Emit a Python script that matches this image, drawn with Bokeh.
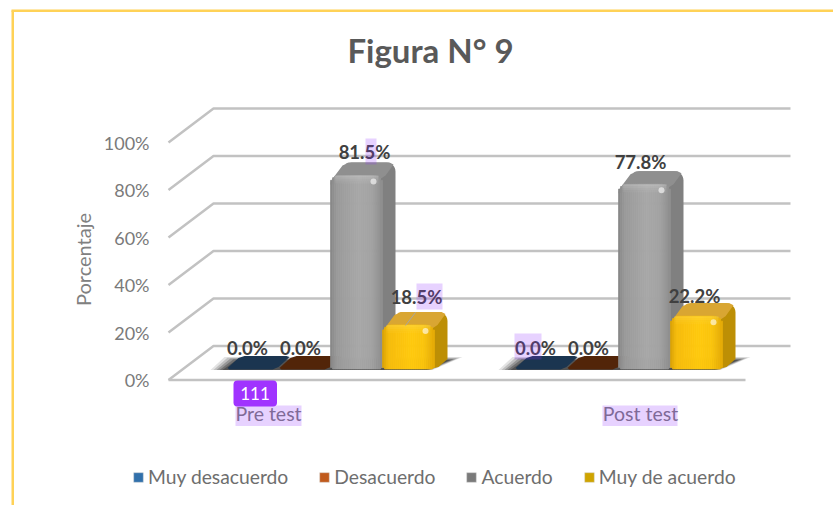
import math
from bokeh.plotting import figure
from bokeh.embed import file_html
from bokeh.resources import INLINE
from bokeh.models import Range1d, BoxAnnotation, Label, Legend, LegendItem, FixedTicker, LinearAxis
from bokeh.core.properties import value

# ---------- data ----------
title_text = "Figura N° 9"
categories = ["Pre test", "Post test"]
series_names = ["Muy desacuerdo", "Desacuerdo", "Acuerdo", "Muy de acuerdo"]
muy_desacuerdo = [0.0, 0.0]
desacuerdo = [0.0, 0.0]
acuerdo = [81.5, 77.8]
muy_de_acuerdo = [18.5, 22.2]
y_ticks = [0, 20, 40, 60, 80, 100]
y_label = "Porcentaje"
badge_text = "111"

# ---------- pixel calibration ----------
W, H = 833, 505
PX_CAT = 288.0                            # px per category
X0_PX = 330.0                             # x of first group's centre
PX_PCT = 2.375                            # px per percent
Y0_PX = 379.5                             # y of 0 %

def dx(px): return px / PX_CAT
def dy(px): return px / PX_PCT
def xd(page): return (page - X0_PX) / PX_CAT
def yd(page): return (Y0_PX - page) / PX_PCT

FONT = "Lato"
p = figure(width=W, height=H, output_backend="svg", toolbar_location=None,
           x_range=Range1d(xd(0), xd(W)), y_range=Range1d(yd(H), yd(0)),
           min_border=0, background_fill_color="white", border_fill_color="white",
           outline_line_color=None, x_axis_type=None, y_axis_type=None)
p.grid.visible = False

# axes sit inside the full-page frame
yax = LinearAxis(ticker=FixedTicker(ticks=y_ticks), fixed_location=xd(155), axis_line_color=None,
                 major_tick_line_color=None, minor_tick_line_color=None,
                 major_label_overrides={t: f"{t}%" for t in y_ticks},
                 major_label_text_font=FONT, major_label_text_font_size="18px",
                 major_label_text_color="#7a7a7a", major_label_standoff=0)
p.add_layout(yax, "left")
tick_pos = [xd(268), xd(640)]
xax = LinearAxis(ticker=FixedTicker(ticks=tick_pos), fixed_location=yd(395), axis_line_color=None,
                 major_tick_line_color=None, minor_tick_line_color=None,
                 major_label_overrides={t: c for t, c in zip(tick_pos, categories)},
                 major_label_text_font=FONT, major_label_text_font_size="19.5px",
                 major_label_text_color="#7a7a7a", major_label_standoff=0)
p.add_layout(xax, "below")

# title and y-axis title
p.add_layout(Label(x=xd(430), y=yd(49), text=title_text, text_font=FONT, text_font_size="33px",
                   text_font_style="bold", text_color="#595959", text_align="center",
                   text_baseline="middle"))
p.add_layout(Label(x=xd(82), y=yd(259), text=y_label, text_font=FONT, text_font_size="20px",
                   text_color="#808080", text_align="center", text_baseline="middle",
                   angle=90, angle_units="deg"))

# 3-D walls: one polyline per gridline, through the data scales
DEPTH_X, DEPTH_Y = 45, 34
RIGHT_BACK = 790
for t in y_ticks:
    p.line([xd(168), xd(168 + DEPTH_X), xd(RIGHT_BACK)],
           [t, t + dy(DEPTH_Y), t + dy(DEPTH_Y)],
           line_color="#c2c2c2", line_width=2.5)
p.line([xd(168), xd(745)], [0, 0], line_color="#c2c2c2", line_width=2.5)

# bars
BAR_W = 52
BASE = dy(Y0_PX - 368.5)
OFF_X, OFF_Y = 13, 13
R = 9
STY = {
    2: dict(stops=[(0, "#858585"), (0.12, "#9a9a9a"), (0.55, "#a8a8a8"), (0.8, "#a2a2a2"), (1, "#8e8e8e")],
            side="#808080", top="#8f8f8f", band="#ffffff"),
    3: dict(stops=[(0, "#d9a106"), (0.12, "#f8bd0c"), (0.55, "#ffc90e"), (0.8, "#fac40c"), (1, "#e4aa07")],
            side="#bd8f05", top="#d9a632", band="#fff2a0"),
}
FLAT = {0: "#1b3550", 1: "#522509"}

def mix(stops, t):
    for (a, ca), (b, cb) in zip(stops, stops[1:]):
        if t <= b:
            f = (t - a) / (b - a)
            cs = [int(ca[i:i + 2], 16) * (1 - f) + int(cb[i:i + 2], 16) * f for i in (1, 3, 5)]
            return "#%02x%02x%02x" % tuple(int(c) for c in cs)
    return stops[-1][1]

def arc(cx, cy, r, a0, a1, n=6):
    return [(cx + r * math.cos(math.radians(a0 + (a1 - a0) * i / n)),
             cy + r * math.sin(math.radians(a0 + (a1 - a0) * i / n))) for i in range(n + 1)]

def poly(x_c, pts, **kw):
    """pts are px offsets from (x_c, 0 %) with y up"""
    p.patch([x_c + dx(a) for a, _ in pts], [b / PX_PCT for _, b in pts], line_color=None, **kw)

def shadow(xc):
    l, r = -120, 132
    for i, al in zip((0, 3, 6, 9, 12), (0.12, 0.18, 0.25, 0.3, 0.35)):
        poly(xc, [(l + i, 10), (l + 14 + i, 23 - i * 0.25), (r - i, 23 - i * 0.25), (r - 30 - i * .5, 10)],
             fill_color="#1a1a1a", fill_alpha=al)

def flat_bar(xl, v, color):
    b = BASE * PX_PCT + v * PX_PCT
    x0 = 0; x1 = BAR_W
    pts = [(x0 + 3, b - 0.5), (x0 + 1, b + 1), (x0 + 12, b + 11), (x0 + 18, b + 13),
           (x1 + 8, b + 13), (x1 + 11, b + 12), (x1, b + 2), (x1 - 6, b - 0.5)]
    poly(xl, pts, fill_color=color)

def solid_bar(xl, v, sty):
    b = BASE * PX_PCT
    t = b + v * PX_PCT
    x0, x1 = 0, BAR_W
    # silhouette (side colour)
    pts = [(x1 - 4, b), (x1 + 4, b + 2), (x1 + OFF_X, b + OFF_Y - 3)]
    pts += arc(x1 + OFF_X - R, t + OFF_Y - R, R, 0, 90)
    pts += arc(x0 + OFF_X + R, t + OFF_Y - R, R, 90, 135)
    pts += [(x0 + 3, t - 2), (x1 - 4, t - 6)]
    poly(xl, pts, fill_color=sty["side"])
    # top face, rounded over the front-left corner
    pts = arc(x0 + R, t - R, R, 180, 135)
    pts += [(x0 + OFF_X - 1, t + OFF_Y - 3)] + arc(x0 + OFF_X + 6, t + OFF_Y - 6, 6, 135, 90)
    pts += [(x1 + OFF_X - 6, t + OFF_Y), (x1 + OFF_X - 2, t + OFF_Y - 2), (x1 + 3, t), (x1 - 3, t - 4)]
    poly(xl, pts, fill_color=sty["top"])
    # front face: vertical strips
    n = BAR_W // 2
    lefts, rights, tops, bots, cols = [], [], [], [], []
    for i in range(n):
        a, c = i * 2, (i + 1) * 2
        mid = (a + c) / 2
        edge = min(mid, BAR_W - mid)
        drop = R - math.sqrt(max(R * R - (R - edge) ** 2, 0)) if edge < R else 0
        lefts.append(xl + dx(a)); rights.append(xl + dx(c))
        tops.append((t - drop) / PX_PCT)
        bots.append((b + (1.5 if edge < 3 else 0)) / PX_PCT)
        cols.append(mix(sty["stops"], mid / BAR_W))
    p.quad(left=lefts, right=rights, top=tops, bottom=bots, fill_color=cols,
           line_color=cols, line_width=0.7)
    # lighter rim along the top edge
    for k, al in enumerate((0.20, 0.14, 0.09, 0.05)):
        p.quad(left=[xl + dx(4)], right=[xl + dx(BAR_W - 4)],
               top=[(t - 2 * k) / PX_PCT], bottom=[(t - 2 * k - 2) / PX_PCT],
               fill_color=sty["band"], fill_alpha=al, line_color=None)
    # corner glint
    p.scatter([xl + dx(BAR_W - 9)], [(t - 6) / PX_PCT], size=6, marker="circle",
              fill_color="#ffffff", fill_alpha=0.6, line_color=None)

series = [muy_desacuerdo, desacuerdo, acuerdo, muy_de_acuerdo]
for g in range(len(categories)):
    shadow(float(g))
    for s, vals in enumerate(series):
        xl = g + dx((s - 2) * BAR_W)
        if vals[g] == 0:
            flat_bar(xl, vals[g], FLAT[s])
    for s in (2, 3):
        solid_bar(g + dx((s - 2) * BAR_W), series[s][g], STY[s])

# data labels: offsets from the bar's front-top centre, in px
LABEL_OFF = {(0, 0): (-5, 21), (0, 1): (-4, 21), (0, 2): (8, 23), (0, 3): (8, 28),
             (1, 0): (-5, 21), (1, 1): (-4, 21), (1, 2): (-4, 22), (1, 3): (-2, 20)}
for (g, s), (ox, oy) in LABEL_OFF.items():
    v = series[s][g]
    p.text([g + dx((s - 2) * BAR_W + BAR_W / 2 + ox)], [BASE + v + dy(oy)], text=[f"{v:.1f}%"],
           text_align="center", text_baseline="middle", text_font=value(FONT),
           text_font_style="bold", text_font_size="18.5px", text_color="#404040")
# leader of the 18.5 % label
p.line([xd(405), xd(415)], [yd(325), yd(312)], line_color="#a6a6a6", line_width=1)

# legend: keys come from off-page quads, because the key colours differ from the shaded bars
LEG = ["#3170ab", "#c05a1c", "#7a7a7a", "#cfa400"]
rs = [p.quad(left=[xd(-50)], right=[xd(-40)], top=[yd(-40)], bottom=[yd(-50)],
             fill_color=c, line_color="#d9d9d9", line_width=0.5)
      for c in LEG]
leg = Legend(items=[LegendItem(label=n, renderers=[r]) for n, r in zip(series_names, rs)],
             orientation="horizontal", location=(132, H - 488),
             glyph_width=12, glyph_height=12, label_standoff=4, spacing=30,
             padding=0, margin=0, background_fill_alpha=0, border_line_color=None,
             label_text_font=FONT, label_text_font_size="19.3px", label_text_color="#6e6e6e",
             label_height=18)
p.add_layout(leg)

# slide frame (yellow) and overlaid highlights, all via the data scales
def box(l, r, t, b, **kw):
    a = BoxAnnotation(left=xd(l), right=xd(r), top=yd(t), bottom=yd(b), line_color=None, **kw)
    p.add_layout(a)
    return a

box(11, 13.5, 10, 505, fill_color="#ffd257", fill_alpha=1)
box(11, 833, 9, 11.5, fill_color="#ffd257", fill_alpha=1)
for l, r, t, b in [(235, 301, 405, 425.5), (602, 677, 405, 425.5), (365, 376, 138, 164),
                   (416, 442, 283, 309), (514, 541, 333, 359)]:
    box(l, r, t, b, fill_color="#9333ff", fill_alpha=0.22)
box(233, 276.5, 380, 406, fill_color="#a033ff", fill_alpha=1, border_radius=4)
p.add_layout(Label(x=xd(254.5), y=yd(393), text=badge_text, text_color="white",
                   text_font=FONT, text_font_size="17px", text_align="center",
                   text_baseline="middle"))

open("out.html", "w").write(file_html(p, INLINE))
